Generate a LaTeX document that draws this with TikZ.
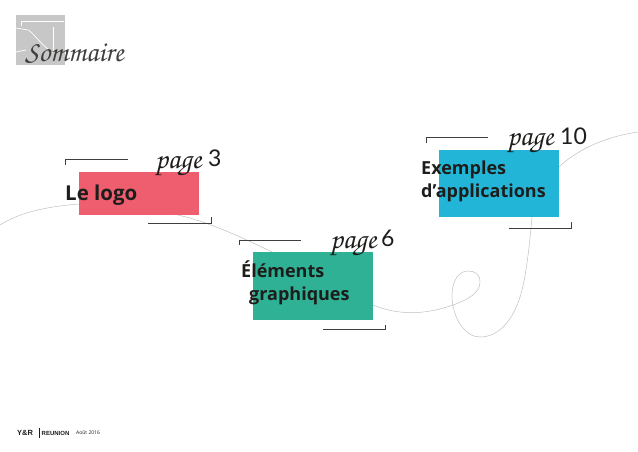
\documentclass[tikz,border=0pt]{standalone}
\usepackage{fontspec}
\setmainfont{Open Sans}
\newfontfamily\scriptf{TeX Gyre Chorus}
\newfontfamily\numf{Lato}
\newfontfamily\heavyf{Liberation Sans}
\definecolor{cred}{HTML}{EF5E6F}
\definecolor{cgreen}{HTML}{2EB195}
\definecolor{cblue}{HTML}{22B5D8}
\definecolor{ink}{HTML}{1D1D1B}
\tikzset{
 tile/.style={inner sep=0pt,minimum width=120pt,anchor=north west},
 thread/.style={draw=black!25,line width=0.5pt},
 bracket/.style={draw=ink!85,line width=0.8pt},
 head/.style={font=\fontsize{18}{23}\selectfont\bfseries,text=ink,anchor=west,align=left,inner sep=0pt},
 pg/.style={font=\scriptf\fontsize{29}{29}\selectfont,text=ink,anchor=base west,inner sep=0pt},
 num/.style={font=\numf\fontsize{23}{23}\selectfont,text=ink,anchor=base west,inner sep=0pt},
}
\begin{document}
\begin{tikzpicture}[x=1pt,y=-1pt]
\useasboundingbox (0,0) rectangle (638,452);
% logo
\fill[black!22] (16,15) rectangle (65,65);
\draw[white,line width=0.7pt] (21,26) -- (21,21) -- (64,21);
\draw[white,line width=0.7pt] (53,27) -- (53,52);
\draw[white,line width=0.7pt] (16,28) -- (28,30) .. controls (33,32) and (38,42) .. (53,53);
\draw[white,line width=0.7pt] (16,52) -- (26,50);
% thread
\draw[thread] (0,225) .. controls (20,212) and (50,206) .. (80,204)
 -- (178,215) .. controls (200,220) and (225,229) .. (272,252)
 -- (373,305) .. controls (395,314) and (420,316) .. (450,306)
 .. controls (468,300) and (480,293) .. (480,282)
 .. controls (480,274) and (475,271) .. (468,271)
 .. controls (458,271) and (452,282) .. (452,295)
 .. controls (452,318) and (465,337) .. (480,337)
 .. controls (500,337) and (515,318) .. (522,290)
 .. controls (527,270) and (530,240) .. (532,217)
 -- (559,167) .. controls (580,147) and (610,136) .. (638,132);
% tiles
\node[tile,fill=cred,minimum height=43pt] (t1) at (79,172) {};
\node[tile,fill=cgreen,minimum height=68pt] (t2) at (253,252) {};
\node[tile,fill=cblue,minimum height=67pt] (t3) at (439,150) {};
% brackets
\draw[bracket] (128,159.5) -- (65.5,159.5) -- (65.5,165);
\draw[bracket] (148,223) -- (211,223) -- (211,217);
\draw[bracket] (301,240) -- (239,240) -- (239,245);
\draw[bracket] (323,329.5) -- (385,329.5) -- (385,325);
\draw[bracket] (488,137) -- (426,137) -- (426,143);
\draw[bracket] (509,228) -- (571.5,228) -- (571.5,222);
% headings
\node[head,font=\fontsize{20.5}{24}\selectfont\bfseries,anchor=base west] (h1) at (65,200.7) {Le logo};
\node[head] (h2) at (241,283) {Éléments\\[0pt]\hspace*{8pt}graphiques};
\node[head] (h3) at (421,181) {Exemples\\[0pt]d’applications};
% page labels
\node[pg] (p1) at (155,168) {page};
\node[num] (n1) at (208,167) {3};
\node[pg] (p2) at (330,248) {page};
\node[num] (n2) at (381,246) {6};
\node[pg] (p3) at (507,146) {page};
\node[num] (n3) at (560,144) {10};
% title
\node[font=\scriptf\fontsize{29}{29}\selectfont,text=ink!85,anchor=base west,inner sep=0pt] (title) at (25,62) {Sommaire};
% footer
\node[font=\heavyf\bfseries\fontsize{7.5}{8}\selectfont,text=ink,anchor=west,inner sep=0pt] (f1) at (17,433) {Y\&R};
\node[font=\heavyf\bfseries\fontsize{6}{8}\selectfont,text=ink,anchor=west,inner sep=0pt] (f2) at (41.5,433) {REUNION};
\node[font=\fontsize{5}{8}\selectfont,text=ink,anchor=west,inner sep=0pt] (f3) at (76,433) {Août 2016};
\draw[ink,line width=0.4pt] (39,428) -- (39,438);
\end{tikzpicture}
\end{document}
